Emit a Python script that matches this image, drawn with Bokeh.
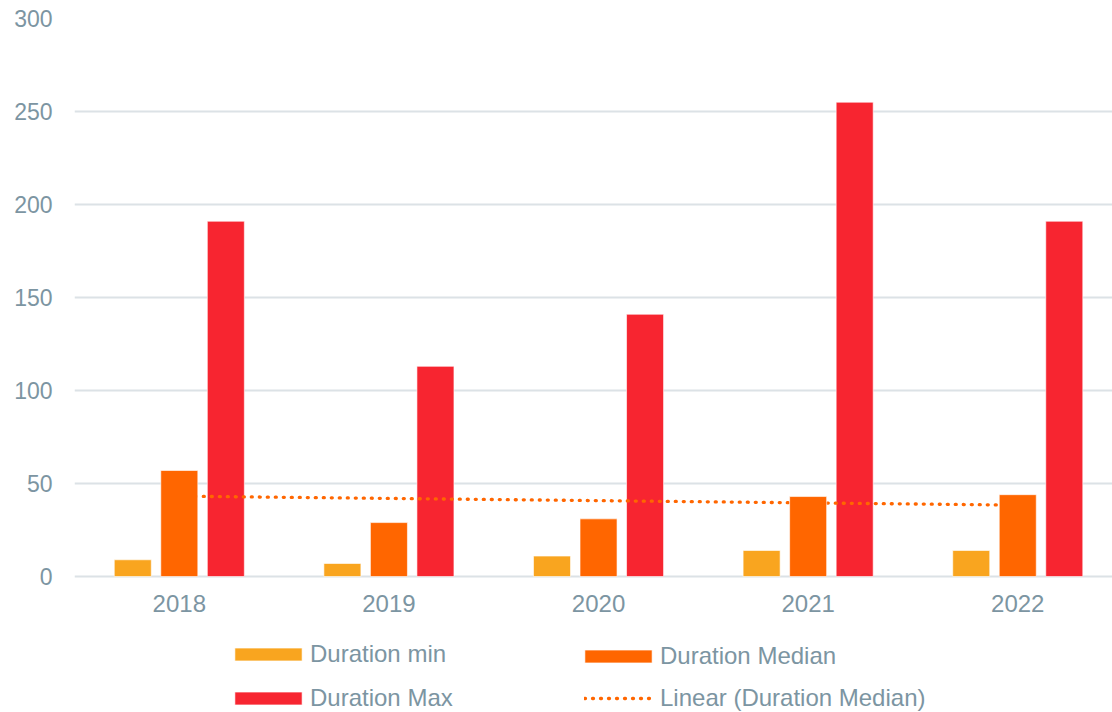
import numpy as np
from bokeh.plotting import figure
from bokeh.models import (ColumnDataSource, Range1d, FixedTicker, Legend, LegendItem)
from bokeh.transform import dodge
from bokeh.core.properties import value
from bokeh.embed import file_html
from bokeh.resources import INLINE

years = ["2018", "2019", "2020", "2021", "2022"]
duration_min = [9, 7, 11, 14, 14]
duration_median = [57, 29, 31, 43, 44]
duration_max = [191, 113, 141, 255, 191]
y_ticks = [0, 50, 100, 150, 200, 250, 300]

FONT = "Liberation Sans"
TXT = "#7c95a2"
GRID = "#dce2e6"
C_MIN = "#F9A51F"
C_MED = "#FF6600"
C_MAX = "#F72530"

xs = np.arange(len(years))
slope, intercept = np.polyfit(xs + 1, duration_median, 1)
trend = intercept + slope * (xs + 1)

src = ColumnDataSource(dict(
    x=xs, mn=duration_min, md=duration_median, mx=duration_max, tr=trend,
    yr=years, zero=[0] * len(years),
))

# frame spans the whole lower area so the legend (below the axis) is drawn inside it
p = figure(width=1112, height=712, output_backend="svg", toolbar_location=None,
           x_range=Range1d(-0.5, 4.452), y_range=Range1d(-73.1, 300),
           min_border_left=74, min_border_right=0, min_border_top=18,
           min_border_bottom=0)
p.outline_line_color = None
p.background_fill_color = "white"
p.border_fill_color = "white"

step = 46.5 / 209.5
bw = 37 / 209.5
lk = dict(line_color="white", line_alpha=0.6, line_width=1)
r_min = p.vbar(x=dodge("x", -step), top="mn", width=bw, source=src, fill_color=C_MIN, **lk)
r_max = p.vbar(x=dodge("x", step), top="mx", width=bw, source=src, fill_color=C_MAX, **lk)
r_tr = p.line(x="x", y="tr", source=src, line_color=C_MED, line_width=3.3,
              line_dash="1 7", line_cap="round")
r_med = p.vbar(x="x", top="md", width=bw, source=src, fill_color=C_MED, **lk)

# category labels below the zero line
p.text(x="x", y="zero", text="yr", source=src, y_offset=27,
       text_align="center", text_baseline="middle",
       text_font=value(FONT), text_font_size="24px", text_color=TXT)

# axes
p.xaxis.visible = False
p.yaxis.ticker = FixedTicker(ticks=y_ticks)
ax = p.yaxis[0]
ax.major_tick_line_color = None
ax.minor_tick_line_color = None
ax.major_label_text_font = FONT
ax.major_label_text_font_size = "23px"
ax.major_label_text_color = TXT
ax.axis_line_color = None
ax.major_label_standoff = 16
p.xgrid.grid_line_color = None
p.ygrid.grid_line_color = GRID
p.ygrid.grid_line_width = 2

def mk_legend(items, loc, gw, gh, standoff):
    return Legend(items=items, location=loc, orientation="vertical",
                  background_fill_alpha=0, border_line_color=None,
                  padding=0, margin=0, spacing=16,
                  glyph_width=gw, glyph_height=gh, label_height=22,
                  label_standoff=standoff,
                  label_text_font=FONT, label_text_font_size="24px",
                  label_text_color=TXT)

lg1 = mk_legend([LegendItem(label="Duration min", renderers=[r_min]),
                 LegendItem(label="Duration Max", renderers=[r_max])], (152, 0), 84, 16, 0)
lg2 = mk_legend([LegendItem(label="Duration Median", renderers=[r_med])], (502, 42), 84, 16, 0)
lg3 = mk_legend([LegendItem(label="Linear (Duration Median)", renderers=[r_tr])], (510, 0), 67, 16, 9)
p.add_layout(lg1)
p.add_layout(lg2)
p.add_layout(lg3)

open("out.html", "w").write(file_html(p, INLINE))
